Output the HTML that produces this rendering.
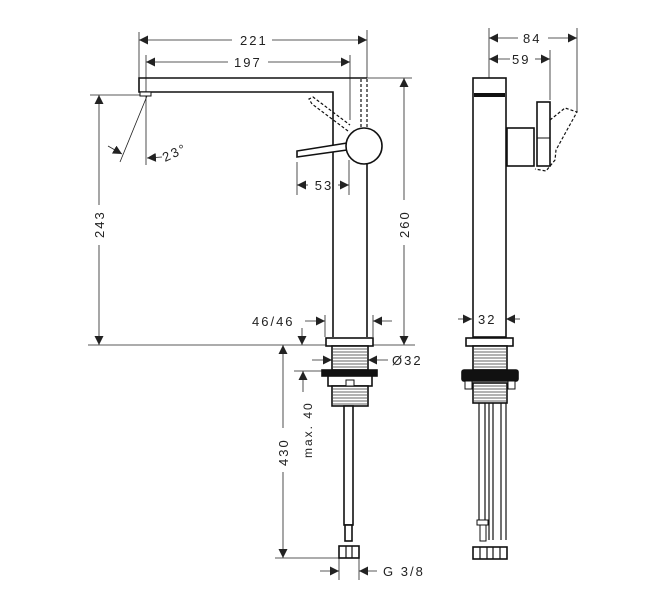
<!DOCTYPE html>
<html><head><meta charset="utf-8"><style>
html,body{margin:0;padding:0;background:#fff;}
svg{display:block;}
text{font-family:"Liberation Sans",sans-serif;font-size:13px;fill:#222;letter-spacing:2px;}
</style></head><body>
<svg width="668" height="600" viewBox="0 0 668 600" xmlns="http://www.w3.org/2000/svg">
<defs>
<marker id="a" viewBox="0 0 10 10" refX="10" refY="5" markerWidth="9" markerHeight="9" orient="auto-start-reverse" markerUnits="userSpaceOnUse"><path d="M0,0 L10,5 L0,10 z" fill="#222"/></marker>
</defs>
<g stroke="#222" fill="none" stroke-width="0.8">
<line x1="139" y1="32" x2="139" y2="78"/><line x1="367" y1="30" x2="367" y2="78"/>
<line x1="139" y1="40" x2="232" y2="40" marker-start="url(#a)"/><line x1="272" y1="40" x2="367" y2="40" marker-end="url(#a)"/>
<line x1="146" y1="55" x2="146" y2="165"/><line x1="350" y1="55" x2="350" y2="120"/>
<line x1="146" y1="62" x2="228" y2="62" marker-start="url(#a)"/><line x1="268" y1="62" x2="350" y2="62" marker-end="url(#a)"/>
<line x1="90" y1="95" x2="148" y2="95"/>
<line x1="99" y1="95" x2="99" y2="205" marker-start="url(#a)"/><line x1="99" y1="245" x2="99" y2="345" marker-end="url(#a)"/>
<line x1="88" y1="345" x2="415" y2="345"/>
<line x1="147" y1="96" x2="120" y2="162"/>
<line x1="108" y1="146" x2="122" y2="154" marker-end="url(#a)"/>
<line x1="162" y1="157" x2="147" y2="158" marker-end="url(#a)"/>
<line x1="367" y1="78" x2="412" y2="78"/>
<line x1="404" y1="78" x2="404" y2="200" marker-start="url(#a)"/><line x1="404" y1="245" x2="404" y2="345" marker-end="url(#a)"/>
<line x1="297" y1="162" x2="297" y2="195"/><line x1="349" y1="160" x2="349" y2="195"/>
<line x1="308" y1="185" x2="297" y2="185" marker-end="url(#a)"/><line x1="338" y1="185" x2="349" y2="185" marker-end="url(#a)"/>
<line x1="325" y1="315" x2="325" y2="337"/><line x1="373" y1="315" x2="373" y2="337"/>
<line x1="305" y1="321" x2="325" y2="321" marker-end="url(#a)"/><line x1="392" y1="321" x2="373" y2="321" marker-end="url(#a)"/>
<line x1="302" y1="328" x2="302" y2="345" marker-end="url(#a)"/>
<line x1="312" y1="360" x2="332" y2="360" marker-end="url(#a)"/><line x1="388" y1="360" x2="368" y2="360" marker-end="url(#a)"/>
<line x1="294" y1="371" x2="323" y2="371"/>
<line x1="303" y1="392" x2="303" y2="371" marker-end="url(#a)"/>
<line x1="283" y1="345" x2="283" y2="428" marker-start="url(#a)"/><line x1="283" y1="472" x2="283" y2="558" marker-end="url(#a)"/>
<line x1="275" y1="558" x2="340" y2="558"/>
<line x1="339" y1="558" x2="339" y2="580"/><line x1="359" y1="558" x2="359" y2="580"/>
<line x1="320" y1="571" x2="339" y2="571" marker-end="url(#a)"/><line x1="377" y1="571" x2="359" y2="571" marker-end="url(#a)"/>
<line x1="489" y1="28" x2="489" y2="78"/><line x1="577" y1="28" x2="577" y2="112"/><line x1="550" y1="50" x2="550" y2="100"/>
<line x1="489" y1="38" x2="518" y2="38" marker-start="url(#a)"/><line x1="548" y1="38" x2="577" y2="38" marker-end="url(#a)"/>
<line x1="489" y1="59" x2="510" y2="59" marker-start="url(#a)"/><line x1="535" y1="59" x2="550" y2="59" marker-end="url(#a)"/>
<line x1="458" y1="319" x2="472" y2="319" marker-end="url(#a)"/><line x1="520" y1="319" x2="506" y2="319" marker-end="url(#a)"/>
</g>
<g stroke="#111" fill="none" stroke-width="1.6">
<path d="M367,78 L139,78 L139,92 L333,92 L333,337"/>
<path d="M367,160 L367,337"/>
<rect x="140" y="92" width="11" height="4" fill="#fff" stroke-width="1"/>
<path d="M361,79 L361,128 M367,79 L367,128" stroke-dasharray="3,2" stroke-width="1.2"/>
<path d="M348,131 L312,104 L309,99 L313,97 L350,125" stroke-dasharray="3,2" stroke-width="1.2"/>
<path d="M347,143 L297,151 L297,157 L347,150" fill="#fff"/>
<circle cx="364" cy="146" r="18" fill="#fff"/>
<rect x="326" y="338" width="47" height="8" fill="#fff"/>
<rect x="332" y="346" width="36" height="24" fill="#fff"/>
<rect x="322" y="370" width="55" height="6" fill="#111"/>
<rect x="328" y="376" width="44" height="10" fill="#fff"/>
<rect x="332" y="386" width="36" height="20" fill="#fff"/>
<rect x="344" y="406" width="9" height="119" fill="#fff"/>
<rect x="345" y="525" width="7" height="16" fill="#fff"/>
<rect x="339" y="546" width="20" height="12" fill="#fff"/>
<path d="M346,546 V558 M352,546 V558" stroke-width="1.2"/>
<rect x="473" y="78" width="33" height="259" fill="#fff"/>
<rect x="474" y="93" width="31" height="4" fill="#111" stroke="none"/>
<rect x="507" y="128" width="27" height="38" fill="#fff"/>
<rect x="537" y="102" width="13" height="64" fill="#fff"/>
<line x1="537" y1="138" x2="550" y2="138" stroke-width="1"/>
<path d="M550,120 L565,108 L577,112 L567,130 L556,150 L555,160 L546,171 L535,169" stroke-dasharray="3,2" stroke-width="1.2"/>
<rect x="466" y="338" width="47" height="8" fill="#fff"/>
<rect x="473" y="346" width="34" height="24" fill="#fff"/>
<rect x="462" y="370" width="56" height="11" rx="2" fill="#111"/>
<rect x="465" y="381" width="7" height="8" fill="#fff" stroke-width="1"/>
<rect x="508" y="381" width="7" height="8" fill="#fff" stroke-width="1"/>
<rect x="473" y="383" width="34" height="20" fill="#fff"/>
<path d="M479,403 V520 M485,403 V520 M489,403 V540 M493,403 V540 M501,403 V540 M506,403 V540" stroke-width="1.2"/>
<rect x="477" y="520" width="11" height="5" fill="#fff" stroke-width="1"/>
<rect x="480" y="525" width="6" height="16" fill="#fff" stroke-width="1"/>
<rect x="473" y="547" width="34" height="12" fill="#fff"/>
<path d="M480,547 V559 M487,547 V559 M493,547 V559 M500,547 V559" stroke-width="1.2"/>
</g>
<g stroke="#333" stroke-width="0.7">
<path d="M333,349H367M333,352H367M333,355H367M333,358H367M333,361H367M333,364H367M333,367H367"/>
<path d="M333,389H367M333,392H367M333,395H367M333,398H367M333,401H367M333,404H367"/>
<path d="M474,349H506M474,352H506M474,355H506M474,358H506M474,361H506M474,364H506M474,367H506"/>
<path d="M474,386H506M474,389H506M474,392H506M474,395H506M474,398H506M474,401H506"/>
</g>
<rect x="346" y="380" width="8" height="6" fill="#fff" stroke="#111"/>
<text x="240" y="45">221</text>
<text x="234" y="67">197</text>
<text x="324" y="190" text-anchor="middle">53</text>
<text x="0" y="0" transform="translate(104,238) rotate(-90)">243</text>
<text x="0" y="0" transform="translate(409,238) rotate(-90)">260</text>
<text x="0" y="0" transform="translate(288,466) rotate(-90)">430</text>
<text x="0" y="0" transform="translate(312,458) rotate(-90)" style="font-size:12px">max. 40</text>
<text x="0" y="0" transform="translate(165,162) rotate(-25)">23°</text>
<text x="252" y="326">46/46</text>
<text x="392" y="365">Ø32</text>
<text x="383" y="576">G 3/8</text>
<text x="523" y="43">84</text>
<text x="512" y="64">59</text>
<text x="478" y="324">32</text>
</svg>
</body></html>
